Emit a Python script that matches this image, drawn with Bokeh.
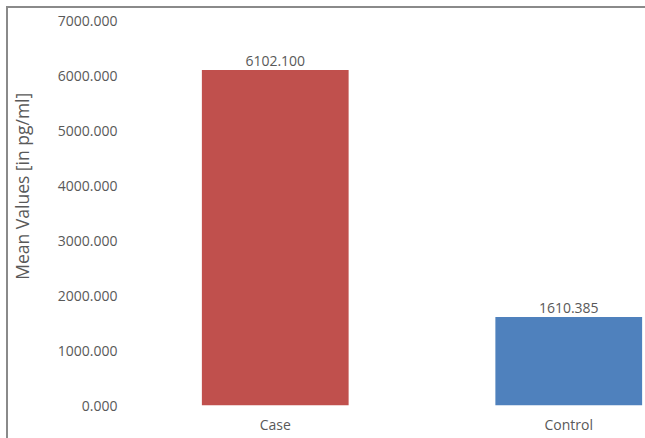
from bokeh.plotting import figure
from bokeh.models import (ColumnDataSource, Range1d, FixedTicker, PrintfTickFormatter,
                          LabelSet)
from bokeh.core.properties import value
from bokeh.embed import file_html
from bokeh.resources import INLINE

# Mean concentration per group
groups = ["Case", "Control"]
means = [6102.100, 1610.385]
bar_colors = ["#C0504D", "#4F81BD"]
y_ticks = [0, 1000, 2000, 3000, 4000, 5000, 6000, 7000]
y_title = "Mean Values [in pg/ml]"

FONT = "Open Sans"
TEXT = "#595959"

positions = [i + 0.5 for i in range(len(groups))]
source = ColumnDataSource(dict(
    x=positions,
    top=means,
    color=bar_colors,
    label=["%.3f" % v for v in means],
))

p = figure(
    width=645, height=438,
    x_range=Range1d(0, 1.7615), y_range=Range1d(0, 7150),
    output_backend="svg", toolbar_location=None,
    min_border_left=128, min_border_right=0,
    min_border_top=12, min_border_bottom=33,
)
p.border_fill_alpha = 0
p.background_fill_color = "white"
p.outline_line_color = None
p.xgrid.visible = False
p.ygrid.visible = False

# chart-area border on the left and top edges
p.styles = {
    "background-image": "linear-gradient(#8a8a8a, #8a8a8a), linear-gradient(#8a8a8a, #8a8a8a)",
    "background-size": "2px 100%, 100% 2px",
    "background-position": "6px 6px, 6px 6px",
    "background-repeat": "no-repeat",
}

p.vbar(x="x", top="top", bottom=0, width=0.5, color="color", line_color=None, source=source)

p.add_layout(LabelSet(x="x", y="top", text="label", source=source,
                      text_align="center", text_baseline="bottom", y_offset=4,
                      text_font=value(FONT), text_font_size="14px", text_color=TEXT))

xa = p.xaxis[0]
xa.ticker = FixedTicker(ticks=positions)
xa.major_label_overrides = {pos: g for pos, g in zip(positions, groups)}
xa.axis_line_color = None
xa.major_tick_line_color = None
xa.minor_tick_line_color = None
xa.major_label_standoff = 3
xa.major_label_text_font = FONT
xa.major_label_text_font_size = "14px"
xa.major_label_text_color = TEXT

ya = p.yaxis[0]
ya.ticker = FixedTicker(ticks=y_ticks)
ya.formatter = PrintfTickFormatter(format="%.3f")
ya.axis_line_color = None
ya.major_tick_line_color = None
ya.minor_tick_line_color = None
ya.major_label_standoff = 5
ya.major_label_text_font = FONT
ya.major_label_text_font_size = "14px"
ya.major_label_text_color = TEXT

# axis title sits a little above the frame's middle: pad its start with no-break spaces
ya.axis_label = "\u00a0" * 10 + y_title
ya.axis_label_standoff = 21
ya.axis_label_text_font = FONT
ya.axis_label_text_font_size = "17.5px"
ya.axis_label_text_font_style = "normal"
ya.axis_label_text_color = TEXT

open("out.html", "w").write(file_html(p, INLINE))
